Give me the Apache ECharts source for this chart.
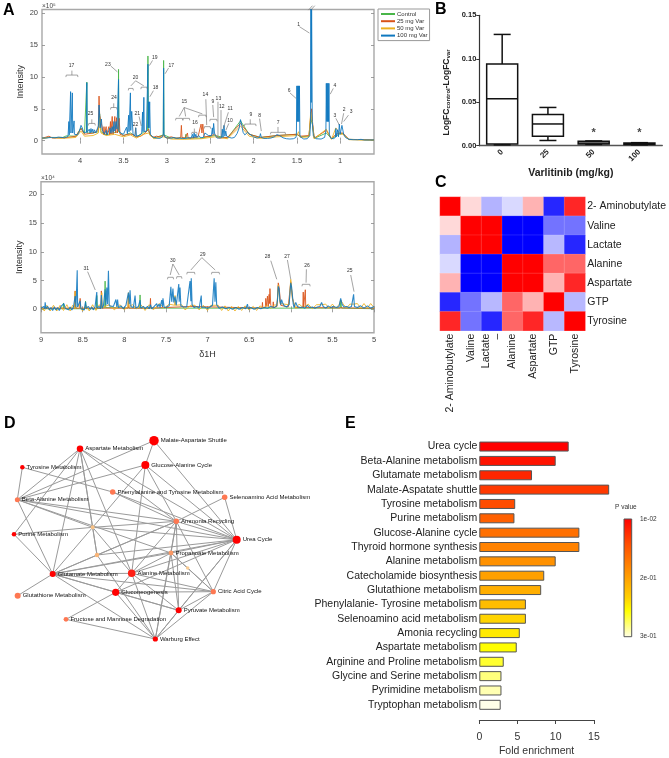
<!DOCTYPE html>
<html><head><meta charset="utf-8">
<style>html,body{margin:0;padding:0;background:#fff}#c{width:669px;height:758px;filter:blur(.45px)}</style>
<script src="https://cdn.jsdelivr.net/npm/echarts@6/dist/echarts.min.js"></script>
</head><body><div id="c"></div>
<script>
// ---------- Panel A, upper spectrum (ppm, intensity x10^5) ----------
const upperBlue=[[4.44,.4],[4.40,.4],[4.37,.45],[4.35,.7],[4.33,.5],[4.29,.45],[4.25,.55],[4.21,.5],[4.18,.45],[4.16,.55],[4.14,.65],[4.132,.9],[4.13,3.0],[4.126,.9],[4.112,1],[4.11,7.7],[4.106,1.2],[4.094,1.2],[4.09,7.5],[4.086,1.2],[4.072,1],[4.07,3.1],[4.066,1],[4.05,.8],[4.03,.9],[4.01,1.4],[3.99,2.4],[3.975,2.0],[3.96,1.3],[3.94,1.2],[3.927,1.3],[3.923,9.1],[3.919,1.3],[3.91,1.2],[3.895,1.8],[3.885,1.2],[3.875,1.9],[3.865,1.3],[3.855,1.8],[3.845,1.2],[3.835,1.7],[3.82,1.2],[3.80,1.5],[3.79,2.3],[3.782,5.6],[3.775,4.0],[3.77,2.0],[3.755,3.4],[3.745,1.7],[3.72,1.0],[3.70,1.6],[3.69,.9],[3.67,1.0],[3.655,2.0],[3.645,1.2],[3.63,2.2],[3.62,1.3],[3.61,3.0],[3.60,1.5],[3.585,3.0],[3.575,1.8],[3.561,1.6],[3.557,9.6],[3.553,1.6],[3.535,1.2],[3.52,1.0],[3.50,1.0],[3.48,1.2],[3.465,2.1],[3.455,1.1],[3.445,1.3],[3.44,4.0],[3.436,1.4],[3.425,1.5],[3.42,7.5],[3.416,1.6],[3.405,4.6],[3.39,1.1],[3.37,.7],[3.362,1.0],[3.358,2.0],[3.35,.7],[3.32,.8],[3.29,1.1],[3.28,4.5],[3.275,1.4],[3.268,1.4],[3.265,6.8],[3.26,1.4],[3.25,1.6],[3.235,1.5],[3.222,1.8],[3.218,12.0],[3.214,2],[3.21,6.1],[3.205,2],[3.198,6.1],[3.19,1.0],[3.16,.55],[3.12,.4],[3.08,.35],[3.05,.6],[3.041,1],[3.037,11.4],[3.033,1],[3.02,.55],[2.99,.4],[2.95,.4],[2.92,.5],[2.89,.35],[2.85,.4],[2.82,.35],[2.78,.35],[2.75,.45],[2.72,.4],[2.705,1.0],[2.695,.4],[2.685,1.2],[2.675,.5],[2.665,1.0],[2.655,.5],[2.63,.8],[2.61,.45],[2.58,.5],[2.56,1.2],[2.54,1.2],[2.52,.8],[2.50,.7],[2.485,.8],[2.475,2.0],[2.468,1.0],[2.46,2.7],[2.45,1.2],[2.44,.8],[2.42,.4],[2.40,.35],[2.37,.45],[2.36,1.8],[2.352,.5],[2.34,2.4],[2.33,.7],[2.32,1.5],[2.31,.7],[2.28,.5],[2.25,.4],[2.22,.5],[2.19,1.1],[2.165,2.0],[2.15,3.3],[2.135,2.4],[2.12,1.3],[2.10,.9],[2.085,1.1],[2.07,1.3],[2.05,1.1],[2.03,.9],[2.0,.6],[1.96,.4],[1.93,.5],[1.92,1.1],[1.91,.5],[1.88,.35],[1.84,.35],[1.8,.4],[1.76,.6],[1.73,.95],[1.70,.8],[1.66,.45],[1.62,.3],[1.58,.25],[1.54,.3],[1.51,.5],[1.505,1.0],[1.50,8.6],[1.495,3],[1.49,8.6],[1.485,3],[1.48,8.6],[1.475,3],[1.47,8.6],[1.465,1.0],[1.46,.6],[1.42,.25],[1.38,.3],[1.35,.8],[1.342,3],[1.338,22],[1.334,6],[1.33,22],[1.326,22],[1.322,3],[1.31,.8],[1.28,.3],[1.22,.25],[1.18,.5],[1.165,1.5],[1.16,9],[1.155,3],[1.15,9],[1.145,3],[1.14,9],[1.135,3],[1.13,9],[1.125,1],[1.11,.4],[1.08,.3],[1.055,.5],[1.05,1.9],[1.045,.6],[1.035,.6],[1.03,1.7],[1.02,.6],[1.015,.8],[1.01,2.6],[1.0,1.0],[.99,.9],[.98,2.4],[.972,2.5],[.96,1.0],[.94,.5],[.90,.2],[.85,.15],[.80,.15],[.76,.2],[.72,.1],[.66,.1],[.61,.1]];
const upperOrange=[[4.44,.35],[4.36,.7],[4.32,.4],[4.2,.45],[4.14,.5],[4.05,.7],[3.99,1.9],[3.95,1.0],[3.9,1.1],[3.85,1.2],[3.81,1.4],[3.79,2.0],[3.782,7.0],[3.775,4],[3.76,4.0],[3.745,2.0],[3.728,.9],[3.725,2.2],[3.72,.9],[3.703,.9],[3.70,2.2],[3.695,.9],[3.675,.9],[3.668,2.2],[3.66,.9],[3.65,3],[3.645,1],[3.63,3.8],[3.62,1],[3.6,3.8],[3.59,1.2],[3.58,3.6],[3.57,1.2],[3.55,3.5],[3.54,1],[3.5,.8],[3.45,1.0],[3.4,1],[3.35,.6],[3.3,.7],[3.25,1.2],[3.21,1.8],[3.19,.8],[3.15,.55],[3.12,.7],[3.09,.6],[3.04,.8],[3,.4],[2.95,.6],[2.9,.4],[2.87,.4],[2.84,.5],[2.832,2.4],[2.825,.5],[2.79,.4],[2.77,.4],[2.762,1.2],[2.755,.4],[2.72,.4],[2.64,.6],[2.62,.5],[2.605,2.6],[2.595,1.2],[2.585,2.6],[2.57,.6],[2.5,.7],[2.45,1],[2.4,.4],[2.3,.5],[2.15,2.7],[2.05,1],[1.92,.5],[1.73,.8],[1.5,1],[1.48,1.3],[1.46,.7],[1.36,.8],[1.34,4],[1.33,5],[1.32,3],[1.3,.4],[1.16,1.6],[1.14,1.6],[1.1,.3],[1.05,1],[1.0,1.2],[.97,1.2],[.9,.2],[.61,.1]];
const upperYellow=[[4.44,.3],[4.36,.5],[4.2,.35],[4.05,.5],[3.99,1.5],[3.95,.7],[3.85,.8],[3.79,1.2],[3.775,3.6],[3.76,1.2],[3.7,.8],[3.6,1.0],[3.5,.6],[3.42,.9],[3.35,.4],[3.27,1.0],[3.21,1.2],[3.15,.3],[3.04,.6],[2.95,.25],[2.8,.2],[2.6,.3],[2.45,.6],[2.3,.3],[2.15,2.3],[2.05,.7],[1.92,.35],[1.73,.6],[1.5,.8],[1.48,1.4],[1.46,.5],[1.36,.6],[1.34,4.5],[1.33,4.8],[1.32,2.6],[1.3,.3],[1.16,1.8],[1.14,1.8],[1.1,.2],[1.05,2.0],[1.0,1.0],[.97,1.0],[.9,.15],[.61,.05]];
const upperGreen=[[4.44,.4],[4.36,.5],[4.2,.5],[4.16,.75],[4.05,.7],[3.99,2.0],[3.95,1.1],[3.927,1.2],[3.923,9.2],[3.919,1.2],[3.85,1.2],[3.79,1.4],[3.775,4.2],[3.76,1.4],[3.7,.9],[3.6,1.3],[3.561,1.4],[3.557,11.2],[3.553,1.4],[3.5,.8],[3.42,1.2],[3.35,.6],[3.27,1.3],[3.222,1.6],[3.218,13.3],[3.214,1.6],[3.19,.8],[3.15,.4],[3.041,.9],[3.037,12.6],[3.033,.9],[2.95,.4],[2.85,.4],[2.785,.4],[2.78,1.0],[2.775,.4],[2.6,.4],[2.45,.8],[2.3,.4],[2.15,3.1],[2.05,1],[1.92,.5],[1.73,.8],[1.5,1],[1.46,.6],[1.36,.7],[1.34,3.5],[1.32,2.5],[1.3,.35],[1.16,1.2],[1.14,1.2],[1.1,.3],[1.0,1.1],[.97,1.1],[.9,.2],[.61,.1]];

// ---------- Panel A, lower spectrum (ppm, intensity x10^4) ----------
const lowerBlue=[[9,.2],[8.98,-.1],[8.965,.5],[8.955,.1],[8.95,1.2],[8.94,.1],[8.92,.5],[8.9,-.1],[8.88,.3],[8.86,-.2],[8.84,.4],[8.82,-.1],[8.8,.3],[8.78,-.2],[8.76,.5],[8.74,.2],[8.725,1.0],[8.71,.2],[8.69,.5],[8.67,-.1],[8.65,.4],[8.63,-.1],[8.61,.4],[8.595,.1],[8.59,2.3],[8.58,.3],[8.57,.5],[8.565,6.8],[8.56,.4],[8.545,.1],[8.53,1.5],[8.52,.1],[8.5,.4],[8.48,-.1],[8.465,1.3],[8.455,.2],[8.43,.5],[8.41,0],[8.39,.4],[8.37,-.1],[8.35,.5],[8.335,.2],[8.33,3.0],[8.325,.2],[8.3,.5],[8.285,.1],[8.275,2.5],[8.265,.2],[8.25,.6],[8.235,.4],[8.23,3.5],[8.22,.7],[8.21,3.8],[8.2,.9],[8.19,6.7],[8.18,.6],[8.16,.3],[8.13,.5],[8.11,.2],[8.1,1.7],[8.09,.4],[8.08,1.7],[8.07,.3],[8.04,.6],[8.01,.1],[7.98,.7],[7.96,.7],[7.95,2.9],[7.94,.9],[7.93,3.3],[7.92,.5],[7.89,.3],[7.87,2.4],[7.86,.2],[7.83,.5],[7.81,1.6],[7.8,.2],[7.77,.5],[7.75,.1],[7.72,.5],[7.7,.1],[7.685,.8],[7.67,.1],[7.64,.5],[7.61,1.0],[7.6,.4],[7.58,.9],[7.57,.3],[7.55,1.6],[7.54,.4],[7.535,1.9],[7.52,.3],[7.49,.4],[7.46,.6],[7.44,3.9],[7.43,1.3],[7.415,3.6],[7.405,1.2],[7.39,2.2],[7.375,.7],[7.36,.9],[7.345,4.4],[7.34,1.3],[7.33,3.8],[7.32,.6],[7.29,.4],[7.25,.4],[7.23,.7],[7.21,4.9],[7.2,1.4],[7.195,5.4],[7.185,.8],[7.16,.3],[7.13,.5],[7.1,.2],[7.08,.4],[7.075,2.4],[7.07,.3],[7.04,.4],[7,.2],[6.97,.4],[6.94,.7],[6.92,5.4],[6.91,1.3],[6.9,4.7],[6.89,.8],[6.86,.2],[6.82,.4],[6.78,.1],[6.74,.3],[6.7,0],[6.66,.3],[6.62,0],[6.58,.3],[6.54,.1],[6.52,.9],[6.51,.1],[6.48,.3],[6.44,0],[6.4,.3],[6.36,.1],[6.32,.3],[6.28,.2],[6.24,.5],[6.2,.3],[6.17,.6],[6.16,1.5],[6.15,4.0],[6.14,3.6],[6.13,1.5],[6.12,.8],[6.11,1.7],[6.1,1.2],[6.08,.6],[6.05,.4],[6.02,.8],[6.0,4.6],[5.99,3.9],[5.98,2.4],[5.97,.9],[5.96,.3],[5.94,1.2],[5.92,.5],[5.89,.3],[5.86,.4],[5.83,.2],[5.8,.7],[5.77,.3],[5.74,.4],[5.71,.2],[5.68,.4],[5.65,.5],[5.63,1.2],[5.61,.5],[5.58,.2],[5.55,.6],[5.52,.3],[5.49,.5],[5.45,.3],[5.42,.5],[5.4,1.9],[5.385,.9],[5.36,.4],[5.33,.5],[5.3,.3],[5.27,.5],[5.25,.4],[5.245,2.6],[5.235,.5],[5.2,.3],[5.16,.6],[5.12,.2],[5.08,.6],[5.04,.2],[5,.5]];
const lowerOrange=[[9,.2],[8.595,.2],[8.59,3.2],[8.585,.2],[8.535,.2],[8.53,1.9],[8.525,.2],[8.28,.2],[8.275,3.2],[8.27,.2],[7.955,.2],[7.95,2.4],[7.945,.2],[7.69,.2],[7.685,1.9],[7.68,.2],[7.2,.5],[6.9,.4],[6.345,.2],[6.34,1.2],[6.335,.3],[6.305,.3],[6.3,1.9],[6.29,.5],[6.28,2.3],[6.27,.5],[6.26,2.6],[6.255,1],[6.25,3.6],[6.24,.7],[6.215,.3],[6.21,1.3],[6.205,.3],[6.165,.5],[6.15,4.6],[6.14,3.9],[6.12,.7],[6.03,.4],[6.0,4.8],[5.98,2],[5.95,.3],[5.855,.3],[5.85,3.0],[5.845,.3],[5.83,.3],[5.825,3.4],[5.82,.3],[5,.2]];
const lowerYellow=[[9,.5],[8.96,-.3],[8.93,.7],[8.89,-.3],[8.85,.7],[8.81,-.3],[8.77,.7],[8.73,-.2],[8.69,.8],[8.65,-.3],[8.62,.7],[8.595,.2],[8.59,3.1],[8.585,.2],[8.54,.7],[8.5,-.3],[8.46,.7],[8.42,-.3],[8.38,.8],[8.34,-.2],[8.3,.8],[8.275,.3],[8.27,2.9],[8.265,.3],[8.18,.8],[8.12,-.1],[8.05,.8],[8.0,-.1],[7.955,.5],[7.95,2.9],[7.945,.5],[7.9,.8],[7.85,.1],[7.8,.8],[7.75,-.2],[7.7,.8],[7.65,-.1],[7.58,1.0],[7.52,.2],[7.46,.9],[7.395,.7],[7.39,2.4],[7.385,.7],[7.31,.8],[7.27,-.1],[7.2,.7],[7.15,.7],[7.1,-.1],[7.05,.7],[7,-.2],[6.96,.7],[6.87,.7],[6.83,-.2],[6.79,.6],[6.75,-.3],[6.71,.5],[6.67,-.3],[6.63,.5],[6.59,-.2],[6.55,.6],[6.5,-.1],[6.45,.5],[6.41,-.2],[6.37,.6],[6.33,.2],[6.29,.7],[6.24,.2],[6.19,.8],[6.165,.6],[6.15,4.2],[6.13,1.0],[6.08,.9],[6.02,.8],[6.0,5.2],[5.98,1.8],[5.94,.2],[5.9,.9],[5.85,.3],[5.79,.9],[5.74,.1],[5.69,.8],[5.63,.8],[5.58,.9],[5.54,.2],[5.5,.9],[5.46,.2],[5.42,.8],[5.4,1.6],[5.37,.9],[5.33,.2],[5.29,.9],[5.24,.9],[5.2,1.0],[5.16,.2],[5.12,1.0],[5.08,.2],[5.04,1.0],[5,.3]];
const lowerGreen=[[9,.1],[8.735,.1],[8.73,1.1],[8.725,.1],[8.47,.1],[8.465,1.4],[8.46,.1],[8.335,.1],[8.33,2.4],[8.325,.1],[8.235,.3],[8.23,4.9],[8.225,.3],[7.815,.2],[7.81,2.5],[7.805,.2],[5.405,.2],[5.4,1.6],[5.39,.2],[5,.1]];

// annotation texts: [ppm, intensity, text]
const upperPeakLabels=[[4.10,11.8,'17'],[3.88,4.3,'25'],[3.68,12.0,'23'],[3.61,6.8,'24'],[3.36,9.9,'20'],[3.36,2.45,'22'],[3.34,4.2,'21'],[3.14,13,'19'],[3.13,8.3,'18'],[2.95,11.8,'17'],[2.80,6.1,'15'],[2.675,2.9,'16'],[2.555,7.2,'14'],[2.47,6.1,'9'],[2.405,6.6,'13'],[2.365,5.3,'12'],[2.27,5,'11'],[2.27,3.2,'10'],[2.03,4.1,'9'],[1.93,3.9,'8'],[1.715,2.8,'7'],[1.59,7.9,'6'],[1.48,18.2,'1'],[1.06,8.6,'4'],[1.06,3.9,'3'],[.955,4.8,'2'],[.875,4.55,'3']];
const lowerPeakLabels=[[8.456,7.07,'31'],[7.416,8.46,'30'],[7.056,9.57,'29'],[6.28,9.1,'28'],[6.044,9.22,'27'],[5.804,7.6,'26'],[5.292,6.67,'25']];
// leader lines: [ppm1, int1, ppm2, int2]
const upperLeaders=[[3.645,11.7,3.57,10.8],[3.36,9.4,3.415,8.6],[3.36,9.4,3.265,8.6],[3.36,2.1,3.36,.9],[3.32,3.8,3.295,2.3],[3.165,12.6,3.2,11.8],[3.155,7.85,3.195,6.9],[2.98,11.4,3.02,10.5],[2.80,5.2,2.857,3.8],[2.80,5.2,2.783,3.8],[2.80,5.2,2.59,4.2],[2.55,6.5,2.54,2.45],[2.47,5.6,2.46,3.7],[2.41,6.1,2.41,.6],[2.375,4.8,2.375,.6],[2.29,4.45,2.35,1.9],[2.285,2.7,2.32,1.6],[1.93,3.45,1.91,1.5],[1.58,7.5,1.51,6.65],[1.47,17.9,1.355,16.9],[1.08,8.2,1.115,7.3],[1.05,3.5,1.01,2.45],[.96,4.3,.985,2.6],[.905,4,.96,3],[1.366,20.5,1.32,21.2],[1.34,20.5,1.293,21.2]];
const lowerLeaders=[[8.44,6.55,8.348,3.36],[7.416,7.88,7.448,5.97],[7.416,7.88,7.34,5.97],[7.068,8.99,7.2,6.84],[7.068,8.99,6.908,6.84],[6.24,8.46,6.168,5.22],[6.04,8.58,6.0,5.22],[5.812,6.96,5.816,4.64],[5.28,5.97,5.24,3.07]];
// brackets: [ppm left, ppm right, intensity, stem top or null]
const upperBrackets=[[4.16,4.03,10.3,11],[3.90,3.83,2.7,3.35],[3.645,3.58,5.2,5.86],[3.44,3.39,8.2,null],[3.295,3.23,8.4,null],[2.895,2.82,3.5,null],[2.81,2.74,3.5,null],[2.63,2.55,4.0,null],[2.71,2.655,1.3,1.9],[2.565,2.50,2.2,null],[2.50,2.425,3.35,null],[2.10,1.975,2.6,3.35],[1.80,1.635,1.3,2.15]];
const lowerBrackets=[[7.476,7.412,5.57,null],[7.368,7.312,5.68,null],[7.244,7.156,6.43,null],[6.948,6.86,6.43,null],[5.86,5.772,4.35,null]];

// ---------- Panel B ----------
const doses=['0','25','50','100'];
const boxLow=[.001,.006,.0015,.001];
const boxQ1=[.002,.011,.002,.0015];
const boxMedian=[.054,.025,.003,.002];
const boxQ3=[.094,.036,.005,.003];
const boxHigh=[.128,.044,.0055,.0035];
const starDoses=['50','100'];
const starHeight=[.015,.015];

// ---------- Panel C ----------
const metabolitesRight=['2- Aminobutylate','Valine','Lactate','Alanine','Aspartate','GTP','Tyrosine'];
const metabolitesBottom=['2- Aminobutylate','Valine','Lactate\n–','Alanine','Aspartate','GTP','Tyrosine'];
const corrMatrix=[
 [1,.15,-.3,-.15,.3,-.85,.85],
 [.15,1,1,-1,-1,-.55,-.55],
 [-.3,1,1,-1,-1,-.28,-.85],
 [-.15,-1,-1,1,1,.6,.6],
 [.3,-1,-1,1,1,.3,.85],
 [-.85,-.55,-.28,.6,.3,1,-.28],
 [.85,-.55,-.85,.6,.85,-.28,1]];

// ---------- Panel D ----------
const pathwayNames=['Malate-Aspartate Shuttle','Aspartate Metabolism','Glucose-Alanine Cycle','Tyrosine Metabolism','Phenylalanine and Tyrosine Metabolism','Selenoamino Acid Metabolism','Beta-Alanine Metabolism','Ammonia Recycling','n1','Purine Metabolism','Urea Cycle','n2','Propanoate Metabolism','n3','Glutamate Metabolism','Alanine Metabolism','Citric Acid Cycle','Gluconeogenesis','Glutathione Metabolism','Pyruvate Metabolism','Fructose and Mannose Degradation','Warburg Effect'];
const pathwayX=[462,240,436,67,338,674,52,529,278,42,710,291,513,563,158,395,640,347,53,536,198,466];
const pathwayY=[92,116,165,172,246,262,269,334,352,373,389,435,429,474,492,490,545,547,557,601,628,687];
const pathwayWeight=[9.5,6.5,8,4.5,5.5,5.5,5,5.5,4,4.5,8,4.4,4.8,3.5,6,7.5,5.2,7.2,6,6,4.8,5.2];
const pathwaySignif=[1,1,1,1,.6,.6,.6,.6,.2,1,1,.3,.45,.12,1,.9,.6,1,.6,1,.6,1];
const pathwayLinks=[[0,6],[0,2],[0,10],[2,6],[2,8],[2,15],[2,7],[2,10],[1,6],[1,9],[1,14],[1,8],[1,11],[1,15],[1,7],[1,10],[3,6],[3,4],[4,7],[4,10],[5,7],[5,10],[6,7],[6,8],[6,14],[6,12],[6,10],[8,7],[8,10],[8,11],[8,14],[8,15],[8,9],[11,7],[11,10],[11,14],[11,21],[9,14],[7,10],[7,12],[7,15],[7,14],[7,19],[7,21],[7,16],[10,12],[10,14],[10,15],[10,17],[10,16],[10,19],[10,21],[12,15],[12,19],[12,21],[12,16],[12,13],[12,14],[15,14],[15,17],[15,16],[15,19],[15,21],[14,17],[14,16],[14,19],[14,21],[14,18],[17,19],[17,16],[17,21],[17,20],[20,21],[16,19],[16,21],[19,21],[13,16]];

// ---------- Panel E ----------
const enrichNames=['Urea cycle','Beta-Alanine metabolism','Glutamate metabolism','Malate-Aspatate shuttle','Tyrosine metabolism','Purine metabolism','Glucose-Alanine cycle','Thyroid hormone synthesis','Alanine metabolism','Catecholamide biosynthesis','Glutathione metabolism','Phenylalanie- Tyrosine metabolism','Selenoamino acid metabolism','Amonia recycling','Aspartate metabolism','Arginine and Proline metabolism','Glycine and Serine metabolism','Pyrimidine metabolism','Tryptophan metabolism'];
const enrichValues=[11.7,10,6.9,17,4.7,4.6,13.1,13.1,10,8.5,8.1,6.1,6.1,5.3,4.9,3.2,2.9,2.9,2.8];
const enrichP=[.01,.03,.05,.07,.09,.115,.135,.16,.18,.2,.21,.22,.235,.245,.255,.265,.28,.29,.3];

// ---------- Styles and helpers ----------
const SANS='"Liberation Sans",Arial,sans-serif';
const C_GREEN='#49b649',C_ORANGE='#d95319',C_YELLOW='#edb120',C_BLUE='#0f78bf';
const heatStops=['#ff0000','#ff2800','#ff5000','#ff7000','#ff9000','#ffb000','#ffd000','#ffff00','#ffff70','#ffffe8'];
const pToT=p=>p<=.2?(p-.01)/.19*.5:.5+(p-.2)/.1*.5;
const heat=p=>echarts.color.lerp(pToT(p),heatStops);

function spectrumAxes(gi,xmin,xmax,ymin,ymax,xTicks,yTicks,showXName){
  const tick={show:true,inside:true,length:3,lineStyle:{color:'#888',width:.8}};
  return {
    x:[{type:'value',gridIndex:gi,inverse:true,min:xmin,max:xmax,splitLine:{show:false},axisLine:{show:false},
        axisTick:{...tick,customValues:xTicks},axisLabel:{customValues:xTicks,fontFamily:SANS,fontSize:7.5,color:'#444',margin:3,formatter:v=>String(v)},
        name:showXName?'δ1H':'',nameLocation:'middle',nameGap:17,nameTextStyle:{fontFamily:SANS,fontSize:9,color:'#333'}},
       {type:'value',gridIndex:gi,inverse:true,position:'top',min:xmin,max:xmax,splitLine:{show:false},axisLine:{show:false},axisLabel:{show:false},axisTick:{...tick,customValues:xTicks}}],
    y:[{type:'value',gridIndex:gi,min:ymin,max:ymax,splitLine:{show:false},axisLine:{show:false},
        axisTick:{...tick,customValues:yTicks},axisLabel:{customValues:yTicks,fontFamily:SANS,fontSize:7.5,color:'#444',margin:4},
        name:'Intensity',nameLocation:'middle',nameGap:17,nameTextStyle:{fontFamily:SANS,fontSize:9,color:'#333'}},
       {type:'value',gridIndex:gi,position:'right',min:ymin,max:ymax,splitLine:{show:false},axisLine:{show:false},axisLabel:{show:false},axisTick:{...tick,customValues:yTicks}}]
  };
}
function specLine(name,color,data,xi,yi,width){
  return {type:'line',name,data,xAxisIndex:xi,yAxisIndex:yi,showSymbol:false,symbol:'none',silent:true,animation:false,
    lineStyle:{color,width,opacity:.88},itemStyle:{color},z:3};
}
function annotationSeries(leaders,brackets,labels,xi,yi){
  const rows=[...leaders.map(r=>['L',...r]),...brackets.map(r=>['B',...r]),...labels.map(r=>['T',...r])];
  return {type:'custom',xAxisIndex:xi,yAxisIndex:yi,silent:true,animation:false,z:6,clip:false,
    data:rows.map((r,i)=>[i]),
    encode:{x:[],y:[]},
    renderItem(params,api){
      const r=rows[api.value(0)];
      const stroke={stroke:'#666',lineWidth:.6,fill:null};
      const seg=(a,b)=>({type:'line',shape:{x1:a[0],y1:a[1],x2:b[0],y2:b[1]},style:stroke});
      if(r[0]==='L') return seg(api.coord([r[1],r[2]]),api.coord([r[3],r[4]]));
      if(r[0]==='B'){
        const a=api.coord([r[1],r[3]]),b=api.coord([r[2],r[3]]);
        const kids=[seg(a,b),seg(a,[a[0]-.4,a[1]+2]),seg(b,[b[0]+.4,b[1]+2])];
        if(r[4]!==null){const m=api.coord([(r[1]+r[2])/2,r[4]]);kids.push(seg([m[0],a[1]],m));}
        return {type:'group',children:kids};
      }
      const p=api.coord([r[1],r[2]]);
      return {type:'text',x:p[0],y:p[1],style:{text:r[3],fontFamily:SANS,fontSize:5,fill:'#333',align:'center',verticalAlign:'middle'}};
    }};
}

const axA1=spectrumAxes(0,.61,4.44,-2.1,20.6,[1,1.5,2,2.5,3,3.5,4],[0,5,10,15,20]);
const axA2=spectrumAxes(1,5,9,-4.07,22.2,[5,5.5,6,6.5,7,7.5,8,8.5,9],[0,5,10,15,20],true);
const nodeColor=s=>echarts.color.lerp(s,['#f9dca8','#f9b070','#ff6a4a','#ff0000']);

const option={
  animation:false,backgroundColor:'#fff',
  legend:{show:true,left:378,top:9,orient:'vertical',data:['Control','25 mg Var','50 mg Var','100 mg Var'],icon:'rect',
    padding:[2,2,2,3],itemWidth:14,itemHeight:2,itemGap:1.2,borderColor:'#999',borderWidth:1,
    textStyle:{fontFamily:SANS,fontSize:6,color:'#333',padding:[0,0,0,-3]},selectedMode:false},
  grid:[
    {left:42,top:9.5,width:332,height:144.5,show:true,borderColor:'#a8a8a8',borderWidth:1.4},
    {left:41,top:181.7,width:333,height:151,show:true,borderColor:'#a8a8a8',borderWidth:1.4},
    {left:479.3,top:15.3,width:183,height:130.4},
    {left:440,top:197,width:146.7,height:133.7},
    {left:0,top:410,width:300,height:270},
    {left:479.3,top:439.4,width:114.6,height:276.9}
  ],
  xAxis:[
    ...axA1.x,...axA2.x,
    {type:'category',gridIndex:2,data:doses,axisLine:{lineStyle:{color:'#555',width:1.3}},
     axisTick:{alignWithLabel:true,length:4,lineStyle:{color:'#333',width:1}},
     axisLabel:{rotate:45,fontFamily:SANS,fontWeight:'bold',fontSize:8,color:'#222',margin:5},
     name:'Varlitinib (mg/kg)',nameLocation:'middle',nameGap:22,nameTextStyle:{fontFamily:SANS,fontWeight:'bold',fontSize:10.5,color:'#222'}},
    {type:'category',gridIndex:3,data:metabolitesBottom,axisLine:{show:false},axisTick:{show:false},
     axisLabel:{rotate:90,interval:0,fontFamily:SANS,fontSize:10.5,color:'#222',margin:3,lineHeight:11}},
    {type:'value',gridIndex:4,min:0,max:900,show:false},
    {type:'value',gridIndex:5,min:0,max:15,interval:5,offset:8,splitLine:{show:false},
     axisLine:{show:true,lineStyle:{color:'#444',width:1}},axisTick:{show:true,length:4,lineStyle:{color:'#444'}},
     axisLabel:{fontFamily:SANS,fontSize:10.5,color:'#333',margin:12},
     name:'Fold enrichment',nameLocation:'middle',nameGap:26,nameTextStyle:{fontFamily:SANS,fontSize:10.5,color:'#333'}}
  ],
  yAxis:[
    ...axA1.y,...axA2.y,
    {type:'value',gridIndex:2,min:0,max:.15,interval:.05,splitLine:{show:false},
     axisLine:{show:true,lineStyle:{color:'#333',width:1.2}},axisTick:{show:true,length:3,lineStyle:{color:'#333'}},
     axisLabel:{fontFamily:SANS,fontWeight:'bold',fontSize:7.5,color:'#222',margin:3,formatter:v=>v.toFixed(2)},
     name:'{a|LogFC}{s|control}{a|-LogFC}{s|var}',nameLocation:'middle',nameGap:28,
     nameTextStyle:{padding:[0,24,0,0],rich:{a:{fontFamily:SANS,fontWeight:'bold',fontSize:8.5,color:'#222'},s:{fontFamily:SANS,fontWeight:'bold',fontSize:6,color:'#222',verticalAlign:'bottom',lineHeight:8,padding:[4,0,0,0]}}}},
    {type:'category',gridIndex:3,inverse:true,position:'right',data:metabolitesRight,axisLine:{show:false},axisTick:{show:false},
     axisLabel:{interval:0,fontFamily:SANS,fontSize:10.5,color:'#222',margin:2}},
    {type:'value',gridIndex:4,min:0,max:810,inverse:true,show:false},
    {type:'category',gridIndex:5,inverse:true,data:enrichNames,axisLine:{show:false},axisTick:{show:false},
     axisLabel:{interval:0,fontFamily:SANS,fontSize:10.5,color:'#222',margin:2}}
  ],
  visualMap:[{show:false,seriesIndex:12,min:-1,max:1,dimension:2,inRange:{color:['#0000ff','#ffffff','#ff0000']}}],
  series:[
    specLine('Control',C_GREEN,upperGreen,0,0,1),
    specLine('25 mg Var',C_ORANGE,upperOrange,0,0,1),
    specLine('50 mg Var',C_YELLOW,upperYellow,0,0,1),
    specLine('100 mg Var',C_BLUE,upperBlue,0,0,1),
    annotationSeries(upperLeaders,upperBrackets,upperPeakLabels,0,0),
    specLine('Control',C_GREEN,lowerGreen,2,2,1),
    specLine('25 mg Var',C_ORANGE,lowerOrange,2,2,1),
    specLine('50 mg Var',C_YELLOW,lowerYellow,2,2,1),
    specLine('100 mg Var',C_BLUE,lowerBlue,2,2,1.1),
    annotationSeries(lowerLeaders,lowerBrackets,lowerPeakLabels,2,2),
    {type:'custom',xAxisIndex:4,yAxisIndex:4,silent:true,
     data:doses.map((d,i)=>[i,boxLow[i],boxQ1[i],boxMedian[i],boxQ3[i],boxHigh[i]]),
     encode:{x:0,y:[1,2,3,4,5]},
     renderItem(params,api){
       const i=api.value(0),x=api.coord([i,0])[0],Y=k=>api.coord([i,api.value(k)])[1];
       const st={stroke:'#111',lineWidth:1.5,fill:null};
       const h=(y,w)=>({type:'line',shape:{x1:x-w,y1:y,x2:x+w,y2:y},style:st});
       const v=(a,b)=>({type:'line',shape:{x1:x,y1:a,x2:x,y2:b},style:st});
       return {type:'group',children:[
         v(Y(5),Y(4)),v(Y(2),Y(1)),h(Y(5),8.5),h(Y(1),8.5),
         {type:'rect',shape:{x:x-15.5,y:Y(4),width:31,height:Y(2)-Y(4)},style:{stroke:'#111',lineWidth:1.5,fill:'#fff'}},
         h(Y(3),15.5)]};
     },z:4},
    {type:'scatter',xAxisIndex:4,yAxisIndex:4,silent:true,symbolSize:0,
     data:starDoses.map((d,i)=>[d,starHeight[i]]),
     label:{show:true,position:'inside',formatter:'*',fontFamily:SANS,fontWeight:'bold',fontSize:11,color:'#111'}},
    {type:'heatmap',xAxisIndex:5,yAxisIndex:5,silent:true,
     data:corrMatrix.flatMap((row,r)=>row.map((v,c)=>[c,r,v])),
     itemStyle:{borderColor:'rgba(255,255,255,.25)',borderWidth:.5}},
    {type:'graph',coordinateSystem:'cartesian2d',xAxisIndex:6,yAxisIndex:6,silent:true,
     data:pathwayNames.map((n,i)=>({name:n,value:[pathwayX[i],pathwayY[i]],symbolSize:pathwayWeight[i],
       itemStyle:{color:nodeColor(pathwaySignif[i])},
       label:{show:!/^n\d$/.test(n),position:'right',distance:2,formatter:n,fontFamily:SANS,fontSize:6,color:'#111'}})),
     links:pathwayLinks.map(l=>({source:pathwayNames[l[0]],target:pathwayNames[l[1]]})),
     lineStyle:{color:'#9a9a9a',width:1,opacity:1},z:3},
    {type:'bar',xAxisIndex:7,yAxisIndex:7,silent:true,clip:false,barWidth:10,
     data:enrichValues.map((v,i)=>({value:v,itemStyle:{color:heat(enrichP[i]),borderColor:'#555',borderWidth:1}}))}
  ],
  graphic:[
    {type:'text',left:3,top:3,style:{text:'A',font:'bold 16px '+SANS,fill:'#000'}},
    {type:'text',left:435,top:2,style:{text:'B',font:'bold 16px '+SANS,fill:'#000'}},
    {type:'text',left:435,top:175,style:{text:'C',font:'bold 16px '+SANS,fill:'#000'}},
    {type:'text',left:4,top:416,style:{text:'D',font:'bold 16px '+SANS,fill:'#000'}},
    {type:'text',left:345,top:416,style:{text:'E',font:'bold 16px '+SANS,fill:'#000'}},
    {type:'text',left:42,top:3,style:{text:'×10⁵',font:'6.5px '+SANS,fill:'#444'}},
    {type:'text',left:41,top:175,style:{text:'×10⁴',font:'6.5px '+SANS,fill:'#444'}},
    {type:'rect',shape:{x:624,y:519,width:7.7,height:117.7},
     style:{stroke:'#555',lineWidth:1,fill:new echarts.graphic.LinearGradient(0,0,0,1,heatStops.map((c,i)=>({offset:i/(heatStops.length-1),color:c})))}},
    {type:'text',x:615,y:504,style:{text:'P value',font:'6.5px '+SANS,fill:'#333'}},
    {type:'text',x:640,y:516,style:{text:'1e-02',font:'6.5px '+SANS,fill:'#333'}},
    {type:'text',x:640,y:575,style:{text:'2e-01',font:'6.5px '+SANS,fill:'#333'}},
    {type:'text',x:640,y:633,style:{text:'3e-01',font:'6.5px '+SANS,fill:'#333'}}
  ]
};
echarts.init(document.getElementById('c'),null,{renderer:'canvas'}).setOption(option);
</script></body></html>
